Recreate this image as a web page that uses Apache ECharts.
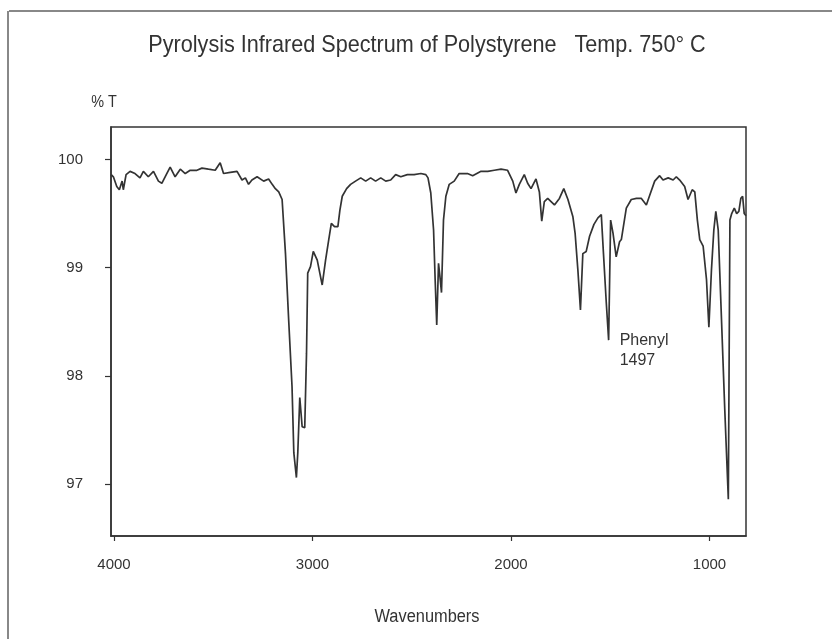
<!DOCTYPE html>
<html>
<head>
<meta charset="utf-8">
<script src="https://cdn.jsdelivr.net/npm/echarts@6/dist/echarts.min.js"></script>
<style>
html,body{margin:0;padding:0;background:#fff;}
#chart{width:832px;height:639px;}
</style>
</head>
<body>
<div id="chart"></div>
<script>
// Wavenumbers (cm-1) and %T values
const wavenumbers = [4014,4003,3986,3973,3959,3953,3939,3919,3894,3869,3852,3827,3801,3776,3759,3734,3717,3692,3666,3641,3616,3582,3557,3524,3490,3465,3448,3414,3380,3355,3338,3322,3305,3279,3246,3221,3203,3187,3170,3153,3136,3120,3103,3094,3081,3074,3064,3052,3039,3030,3024,3010,2996,2976,2963,2951,2934,2918,2905,2889,2872,2862,2850,2828,2808,2783,2757,2732,2707,2682,2656,2631,2606,2581,2555,2522,2488,2454,2429,2418,2404,2390,2382,2374,2365,2358,2350,2340,2328,2311,2286,2261,2219,2193,2151,2117,2084,2050,2017,1991,1975,1958,1933,1916,1899,1874,1857,1845,1832,1815,1781,1756,1734,1713,1688,1677,1663,1650,1638,1621,1604,1582,1562,1545,1534,1520,1508,1498,1486,1470,1453,1444,1419,1394,1368,1343,1318,1301,1276,1251,1234,1208,1183,1167,1150,1125,1108,1087,1074,1061,1049,1032,1015,1003,990,978,968,956,943,923,905,897,888,875,863,852,842,833,825,816];
const transmittance = [99.86,99.84,99.75,99.72,99.80,99.72,99.86,99.89,99.87,99.83,99.89,99.84,99.89,99.80,99.78,99.87,99.93,99.84,99.91,99.87,99.90,99.90,99.92,99.91,99.90,99.97,99.87,99.88,99.89,99.81,99.83,99.77,99.81,99.84,99.80,99.82,99.77,99.73,99.70,99.63,99.13,98.52,97.90,97.29,97.06,97.29,97.80,97.53,97.52,98.21,98.95,99.01,99.15,99.07,98.95,98.84,99.07,99.26,99.41,99.38,99.38,99.53,99.66,99.73,99.77,99.80,99.83,99.80,99.83,99.80,99.83,99.80,99.81,99.86,99.84,99.86,99.86,99.87,99.86,99.83,99.69,99.35,98.89,98.47,99.04,98.92,98.77,99.44,99.66,99.77,99.80,99.87,99.87,99.85,99.89,99.89,99.90,99.91,99.90,99.80,99.69,99.77,99.86,99.78,99.73,99.82,99.70,99.43,99.61,99.64,99.58,99.64,99.73,99.63,99.47,99.32,98.98,98.61,99.13,99.15,99.29,99.40,99.46,99.49,99.13,98.68,98.33,99.44,99.32,99.10,99.24,99.26,99.55,99.63,99.64,99.64,99.58,99.67,99.80,99.85,99.81,99.83,99.81,99.84,99.81,99.75,99.63,99.72,99.70,99.44,99.26,99.20,98.89,98.45,98.98,99.35,99.52,99.35,98.70,97.69,96.86,99.44,99.50,99.55,99.50,99.52,99.64,99.66,99.50,99.48];
const xTicks = [4000, 3000, 2000, 1000];
const yTicks = [100, 99, 98, 97];
const peakLabel = {wavenumber: 1508, value: 98.33, text: 'Phenyl\n1497'};

const FONT = "'Liberation Sans', Arial, Helvetica, sans-serif";
const INK = '#333';

const chart = echarts.init(document.getElementById('chart'), null, {renderer: 'canvas'});
const seriesData = wavenumbers.map((w, i) => [w, transmittance[i]]);

chart.setOption({
  animation: false,
  backgroundColor: '#fff',
  grid: {left: 111, right: 86, top: 127, bottom: 103, show: true, borderColor: INK, borderWidth: 1.5, backgroundColor: 'transparent'},
  xAxis: {
    type: 'value', inverse: true, min: 816, max: 4015,
    axisLine: {show: true, lineStyle: {color: INK, width: 1.5}},
    axisTick: {show: true, inside: false, length: 5, lineStyle: {color: INK, width: 1.2}, customValues: xTicks},
    axisLabel: {show: true, margin: 21, color: INK, fontFamily: FONT, fontSize: 15, customValues: xTicks, formatter: v => String(v)},
    splitLine: {show: false}
  },
  yAxis: {
    type: 'value', min: 96.52, max: 100.3,
    axisLine: {show: true, lineStyle: {color: INK, width: 1.5}},
    axisTick: {show: true, inside: false, length: 6, lineStyle: {color: INK, width: 1.2}, customValues: yTicks},
    axisLabel: {show: true, margin: 28, color: INK, fontFamily: FONT, fontSize: 15, customValues: yTicks, formatter: v => String(v)},
    splitLine: {show: false}
  },
  graphic: [
    {type: 'line', shape: {x1: 9, y1: 11, x2: 832, y2: 11}, style: {stroke: '#888', lineWidth: 2}},
    {type: 'line', shape: {x1: 8, y1: 11, x2: 8, y2: 639}, style: {stroke: '#888', lineWidth: 2}},
    {type: 'text', x: 427, y: 45, scaleX: 0.9, style: {text: 'Pyrolysis Infrared Spectrum of Polystyrene   Temp. 750° C', fill: INK, font: '24px ' + FONT, textAlign: 'center', textVerticalAlign: 'middle'}},
    {type: 'text', x: 104, y: 103, scaleX: 0.9, style: {text: '% T', fill: INK, font: '16px ' + FONT, textAlign: 'center', textVerticalAlign: 'middle'}},
    {type: 'text', x: 427, y: 617, scaleX: 0.91, style: {text: 'Wavenumbers', fill: INK, font: '18px ' + FONT, textAlign: 'center', textVerticalAlign: 'middle'}}
  ],
  series: [{
    type: 'line',
    data: seriesData,
    showSymbol: false,
    symbol: 'none',
    smooth: false,
    lineStyle: {color: INK, width: 1.7},
    markPoint: {
      symbol: 'circle', symbolSize: 0, silent: true,
      data: [{coord: [peakLabel.wavenumber, peakLabel.value]}],
      label: {show: true, position: 'right', distance: 5, offset: [6, 10], formatter: peakLabel.text, color: INK, fontFamily: FONT, fontSize: 16, lineHeight: 20, align: 'left'}
    }
  }]
});
</script>
</body>
</html>
